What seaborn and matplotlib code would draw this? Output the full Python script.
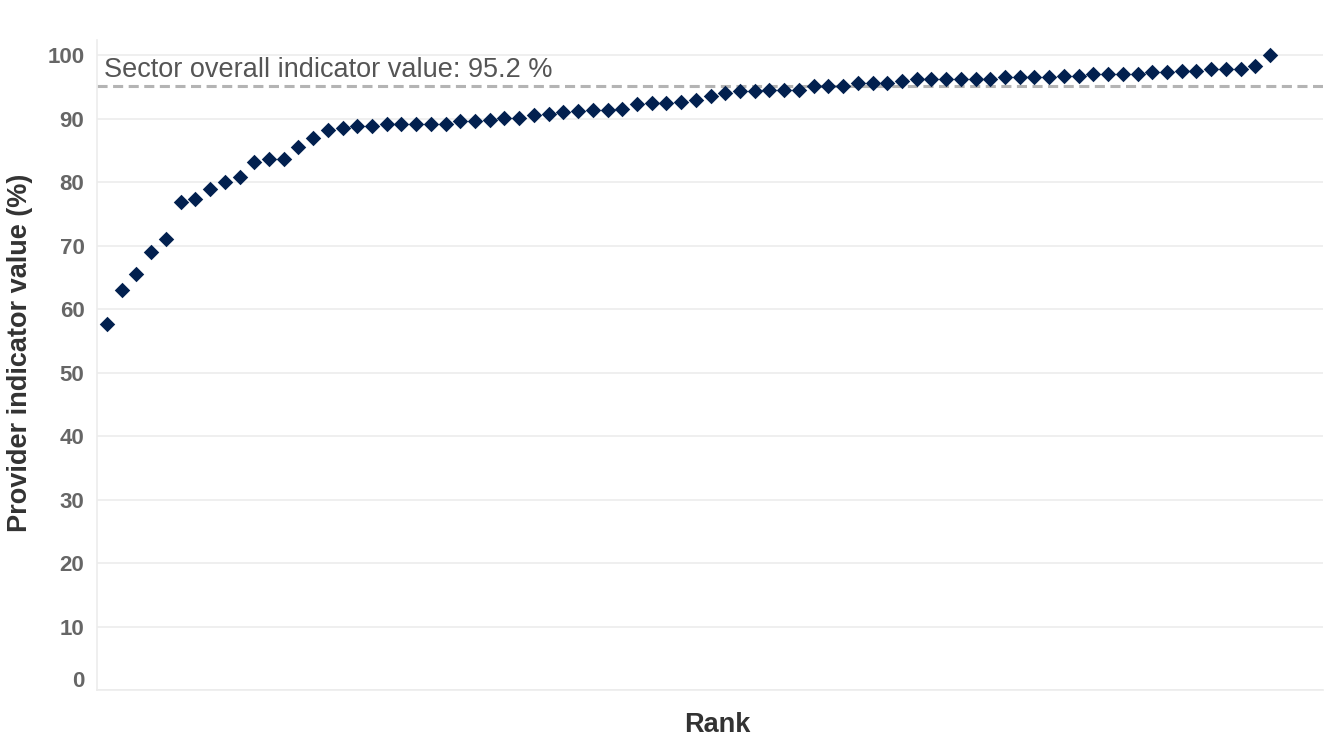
import pandas as pd
import matplotlib.pyplot as plt
import matplotlib.transforms as mtransforms
import seaborn as sns

# Nilai indikator tiap provider (urut dari terendah ke tertinggi)
ranks = list(range(1, 81))
values = [57.7, 63.0, 65.5, 69.0, 71.0, 76.9, 77.3, 79.0, 80.0, 80.8,
          83.2, 83.6, 83.7, 85.5, 86.9, 88.3, 88.5, 88.9, 88.9, 89.1,
          89.1, 89.1, 89.2, 89.2, 89.6, 89.7, 89.8, 90.1, 90.1, 90.6,
          90.8, 91.0, 91.2, 91.4, 91.4, 91.6, 92.3, 92.4, 92.5, 92.6,
          93.0, 93.6, 94.1, 94.3, 94.3, 94.6, 94.6, 94.6, 95.1, 95.1,
          95.2, 95.6, 95.6, 95.7, 96.0, 96.2, 96.2, 96.2, 96.3, 96.3,
          96.3, 96.6, 96.6, 96.6, 96.6, 96.7, 96.7, 97.0, 97.1, 97.1,
          97.1, 97.4, 97.4, 97.5, 97.5, 97.8, 97.8, 97.9, 98.3, 100.0]
sector_value = 95.2
y_ticks = [0, 10, 20, 30, 40, 50, 60, 70, 80, 90, 100]

df = pd.DataFrame({'rank': ranks, 'value': values})

sns.set_theme(style='whitegrid', rc={'grid.color': '#ececec', 'grid.linewidth': 1.2})
plt.rcParams['font.family'] = ['Liberation Sans', 'DejaVu Sans']

fig = plt.figure(figsize=(13.25, 7.38), dpi=100)
ax = fig.add_axes([97 / 1325, 1 - 690 / 738, 1226 / 1325, 650 / 738])

sns.scatterplot(data=df, x='rank', y='value', marker='D', s=62, color='#02204f',
                linewidth=0, ax=ax, zorder=3)

# Garis nilai sektor
ax.axhline(sector_value, color='#b4b4b4', linewidth=2.2, dashes=(3.3, 1.8), zorder=2)
ax.text(0.8, 96.5, f'Sector overall indicator value: {sector_value} %', fontsize=19.5,
        color='#555555', ha='left', va='baseline')

ax.set_xlim(0.32, 83.6)
ax.set_ylim(0, 102.4)
ax.set_xticks([])
ax.set_yticks(y_ticks)
ax.set_yticklabels([str(t) for t in y_ticks])
ax.tick_params(axis='y', length=0, pad=9, labelsize=16, labelcolor='#666666')
for lab in ax.get_yticklabels():
    lab.set_fontweight('bold')
# label 0 sedikit dinaikkan seperti aslinya
zero_lab = ax.get_yticklabels()[0]
zero_lab.set_transform(zero_lab.get_transform() +
                       mtransforms.ScaledTranslation(0, 11 / 100, fig.dpi_scale_trans))

ax.grid(axis='x', visible=False)
for side in ['top', 'right']:
    ax.spines[side].set_visible(False)
for side in ['left', 'bottom']:
    ax.spines[side].set_color('#ececec')
    ax.spines[side].set_linewidth(1.2)

ax.set_xlabel('Rank', fontsize=19.5, fontweight='bold', color='#333333')
ax.xaxis.set_label_coords(0.506, -0.034)
ax.set_ylabel('Provider indicator value (%)', fontsize=19.5, fontweight='bold', color='#333333')
ax.yaxis.set_label_coords(-0.052, 0.518)

fig.savefig('out.png', dpi=100)
